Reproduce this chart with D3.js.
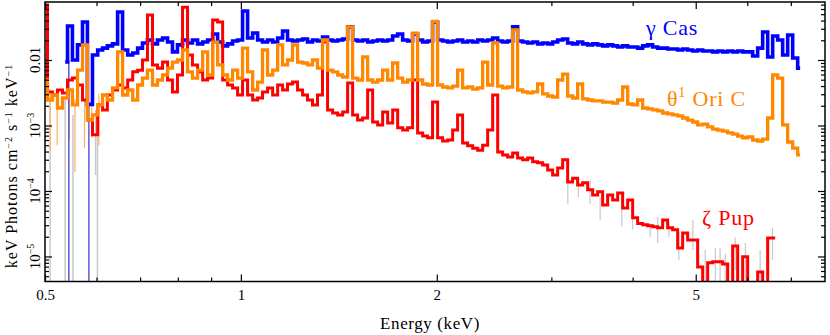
<!DOCTYPE html>
<html>
<head>
<meta charset="utf-8">
<script src="https://cdn.jsdelivr.net/npm/d3@7/dist/d3.min.js"></script>
<style>
  body{margin:0;background:#fff;}
  #canvas{width:830px;height:335px;}
  text{font-family:"Liberation Serif","Times New Roman",serif;}
  .axis path{display:none;}
  .axis line{stroke:#000;stroke-width:1.2;}
  .axis text{font-size:15px;fill:#000;}
</style>
</head>
<body>
<div id="canvas" class="canvas"></div>
<script>
// energy grid (keV), shared by the three spectra
var energy = [0.500,0.509,0.518,0.527,0.537,0.546,0.556,0.566,0.576,0.586,
0.597,0.608,0.618,0.629,0.641,0.652,0.664,0.676,0.688,0.700,
0.712,0.725,0.738,0.751,0.765,0.778,0.792,0.806,0.821,0.835,
0.850,0.866,0.881,0.897,0.913,0.929,0.946,0.962,0.980,0.997,
1.015,1.033,1.052,1.070,1.089,1.109,1.129,1.149,1.169,1.190,
1.211,1.233,1.255,1.277,1.300,1.323,1.347,1.371,1.396,1.421,
1.446,1.472,1.498,1.525,1.552,1.580,1.608,1.637,1.666,1.696,
1.726,1.757,1.788,1.820,1.852,1.886,1.919,1.953,1.988,2.024,
2.060,2.097,2.134,2.172,2.211,2.251,2.291,2.332,2.373,2.416,
2.459,2.503,2.547,2.593,2.639,2.686,2.734,2.783,2.833,2.883,
2.935,2.987,3.040,3.095,3.150,3.206,3.263,3.322,3.381,3.441,
3.503,3.565,3.629,3.694,3.760,3.827,3.895,3.965,4.035,4.107,
4.181,4.255,4.331,4.409,4.487,4.567,4.649,4.732,4.816,4.902,
4.990,5.079,5.170,5.262,5.356,5.451,5.549,5.648,5.749,5.851,
5.956,6.062,6.170,6.280,6.393,6.507,6.623,6.741,6.861,6.984,
7.109,7.235];

// gamma Cas  (keV Photons cm-2 s-1 keV-1)
var gamCas = [null,null,null,null,0.0093,0.033,0.0100,0.0170,0.038,0.0021,
0.0119,0.0142,0.0152,0.0164,0.0176,0.054,0.0142,0.0119,0.0128,0.0152,
0.0182,0.0202,0.0176,0.0202,0.0217,0.0188,0.0133,0.0170,0.0202,0.0182,
0.0202,0.0176,0.0188,0.0202,0.0249,0.0188,0.0164,0.0176,0.0195,0.0202,
0.056,0.0217,0.0258,0.0202,0.0188,0.0202,0.0188,0.0217,0.0277,0.0202,
0.0195,0.0202,0.0209,0.0188,0.0202,0.0195,0.0224,0.0202,0.0195,0.0202,
0.0209,0.032,0.0202,0.0195,0.0202,0.0188,0.0195,0.0202,0.0195,0.0202,
0.0232,0.0249,0.0202,0.0195,0.0249,0.0202,0.0188,0.0195,0.038,0.0202,
0.0195,0.0188,0.0195,0.0202,0.0188,0.0195,0.0188,0.0202,0.0195,0.0202,
0.0217,0.0195,0.0188,0.0195,0.032,0.0195,0.0188,0.0182,0.0188,0.0176,
0.0182,0.0176,0.0188,0.0202,0.0209,0.0182,0.0176,0.0188,0.0176,0.0170,
0.0176,0.0170,0.0164,0.0170,0.0164,0.0158,0.0164,0.0158,0.0158,0.0152,
0.0164,0.0170,0.0158,0.0152,0.0152,0.0147,0.0147,0.0142,0.0147,0.0142,
0.0137,0.0142,0.0137,0.0137,0.0133,0.0137,0.0133,0.0137,0.0133,0.0137,
0.0133,0.0133,0.0115,0.0152,0.0268,0.0111,0.0232,0.0202,0.0119,0.0241,
0.0107,0.0075];

// theta1 Ori C
var thetaOri = [0.00495,0.00245,0.00292,0.00185,0.00263,0.00348,0.00206,0.0070,0.0170,0.00121,
0.00145,0.00206,0.00292,0.00245,0.00374,0.0133,0.00292,0.00348,0.00245,0.00415,
0.0053,0.0070,0.00415,0.00495,0.0059,0.0075,0.0093,0.0100,0.0142,0.0066,
0.0053,0.0070,0.0133,0.0059,0.0188,0.0084,0.0059,0.00495,0.0070,0.0053,
0.0152,0.0066,0.00348,0.0046,0.0142,0.0059,0.0070,0.0170,0.0084,0.0100,
0.0170,0.0093,0.0090,0.0084,0.0100,0.0075,0.0202,0.0070,0.0066,0.0059,
0.0055,0.032,0.0053,0.00495,0.0111,0.00495,0.0046,0.00495,0.0070,0.00495,
0.0090,0.0053,0.0046,0.00495,0.0258,0.00495,0.0043,0.00415,0.039,0.00415,
0.00387,0.00374,0.0040,0.0070,0.00374,0.00387,0.0036,0.00374,0.0093,0.00415,
0.0182,0.0040,0.00374,0.00387,0.0287,0.00348,0.00325,0.00314,0.00325,0.0043,
0.00303,0.00282,0.00272,0.00495,0.0061,0.00282,0.00263,0.0043,0.00254,0.00245,
0.00237,0.00237,0.00228,0.00228,0.0022,0.00245,0.00387,0.00213,0.00206,0.00245,
0.00185,0.00179,0.00173,0.00167,0.00155,0.0015,0.00145,0.0014,0.0013,0.00121,
0.00113,0.00102,0.00105,0.00095,0.00088,0.00085,0.00082,0.00077,0.00074,0.00069,
0.00065,0.00067,0.0006,0.00058,0.00062,0.0013,0.0059,0.0053,0.00102,0.00056,
0.00045,0.000355];

// zeta Pup (1e-6 = bin below the plotted range)
var zetaPup = [0.069,0.00325,0.00292,0.00348,0.00314,0.00495,0.0053,0.00415,0.00245,0.00121,
0.00072,0.00206,0.00173,0.00292,0.00348,0.00415,0.00374,0.00495,0.0066,0.0070,
0.0100,0.0486,0.0084,0.0075,0.0093,0.00495,0.00325,0.0059,0.064,0.0119,
0.0084,0.0066,0.00495,0.0053,0.0408,0.038,0.00495,0.00415,0.00374,0.00292,
0.00495,0.00292,0.00245,0.00263,0.00325,0.00374,0.00292,0.00415,0.00348,0.0043,
0.0046,0.00348,0.00292,0.00245,0.00206,0.00292,0.0188,0.00173,0.00155,0.00145,
0.00161,0.00445,0.00145,0.00121,0.0013,0.00348,0.00113,0.00102,0.00161,0.00109,
0.00173,0.00092,0.00085,0.00092,0.00495,0.00077,0.00069,0.00065,0.00228,0.00065,
0.00058,0.0006,0.00085,0.00145,0.00054,0.00049,0.00045,0.00042,0.0005,0.00085,
0.00292,0.000395,0.000355,0.00033,0.00038,0.00032,0.0003,0.00032,0.00028,0.00027,
0.00025,0.00021,0.000176,0.000225,0.0003,0.000137,0.000157,0.000123,0.000133,0.000104,
8.7e-5,9.7e-5,6.1e-5,8.7e-5,7.3e-5,9.3e-5,5.5e-5,7.3e-5,3.9e-5,3.2e-5,
3.05e-5,2.95e-5,2.85e-5,2.75e-5,3.6e-5,2.75e-5,2.55e-5,1.35e-5,2.28e-5,1.79e-5,
1.79e-5,6.9e-6,1e-6,8.0e-6,8.3e-6,8.3e-6,7.7e-6,1e-6,1.45e-5,1e-6,
9.9e-6,1e-6,1e-6,5.8e-6,1e-6,1.92e-5,1.92e-5,null,null,null,
null,null];

// error bars that show outside the lines
var pupBarE  = [3.18,3.30,3.44,3.565,3.85,4.0,4.255,4.37,4.55,4.71,4.95,5.17,5.36,5.45,5.55,5.75,5.96,6.28,6.56];
var pupBarLo = [6.4e-5,8.1e-5,6.4e-5,3.6e-5,2.85e-5,2.55e-5,2.0e-5,1.6e-5,2.0e-5,8.9e-6,1.26e-5,1e-6,1e-6,1e-6,1e-6,6.2e-6,1e-6,1e-6,8.9e-6];
var pupBarHi = [1.89e-4,1.47e-4,1.47e-4,8.1e-5,9.3e-5,4.0e-5,3.2e-5,4.0e-5,3.2e-5,2.28e-5,3.6e-5,1.26e-5,1.35e-5,1.35e-5,1.1e-5,1.95e-5,1.6e-5,1.26e-5,2.75e-5];

var lowBarE  = [0.509,0.537,0.552,0.598,0.602];
var lowBarLo = [1e-6,1e-6,1e-6,1.76e-4,1e-6];
var lowBarHi = [2.9e-3,2.45e-3,1.45e-3,1.73e-3,1.21e-3];

var oriBarE  = [0.509,0.522,0.545,0.556,0.575,0.590,0.605];
var oriBarLo = [4.2e-4,5.0e-4,6.0e-4,1.95e-4,4.5e-4,6.5e-4,5.0e-4];
var oriBarHi = [3.5e-3,3.0e-3,3.5e-3,2.5e-3,2.5e-3,2.5e-3,3.0e-3];

var casBarE  = [0.544,0.584];
var casBarLo = [1e-6,1e-6];
var casBarHi = [0.0100,0.0021];

// ticks
var xMajor = [0.5,1,2,5];
var xMinor = [0.6,0.7,0.8,0.9,3,4,6,7];
var yMajor = [0.01,1e-3,1e-4,1e-5];
var yLabels = [['0.01',''],['10','\u22123'],['10','\u22124'],['10','\u22125']];

var m = {t:2,r:5,b:53.5,l:45};
var outerWidth = 830, outerHeight = 335;
var w = outerWidth - m.l - m.r,
    h = outerHeight - m.t - m.b;

var svg = d3.select('.canvas')
    .append('svg')
    .attr('width',outerWidth)
    .attr('height',outerHeight);

var plot = svg.append('g')
    .attr('transform','translate(' + m.l + ',' + m.t + ')');

var scaleX = d3.scaleLog().domain([0.5,7.9]).range([0,w]);
var scaleY = d3.scaleLog().domain([4.15e-6,0.0768]).range([h,0]);

plot.append('clipPath').attr('id','clip')
    .append('rect').attr('width',w).attr('height',h);
var layer = plot.append('g').attr('clip-path','url(#clip)');

function bars(E, lo, hi, color, width){
    layer.append('g').selectAll('line')
        .data(E)
        .enter().append('line')
        .attr('x1',function(d){return scaleX(d);})
        .attr('x2',function(d){return scaleX(d);})
        .attr('y1',function(d,i){return scaleY(hi[i]);})
        .attr('y2',function(d,i){return scaleY(lo[i]);})
        .style('stroke',color)
        .style('stroke-width',width);
}

bars(lowBarE, lowBarLo, lowBarHi, '#c8c8c8', 1.5);
bars(pupBarE, pupBarLo, pupBarHi, '#c8c8c8', 1.2);
bars(oriBarE, oriBarLo, oriBarHi, '#ffb060', 1.2);
bars(casBarE, casBarLo, casBarHi, '#4040d0', 1.3);

var line = d3.line()
    .defined(function(d){return d[1] != null;})
    .curve(d3.curveStep)
    .x(function(d){return scaleX(d[0]);})
    .y(function(d){return scaleY(d[1]);});

function spectrum(vals, color, width){
    var pts = energy.map(function(e,i){return [e, vals[i]];});
    layer.append('path').datum(pts)
        .attr('d',line)
        .style('fill','none')
        .style('stroke',color)
        .style('stroke-linejoin','miter')
        .style('stroke-width',width);
}

spectrum(gamCas, '#0000ff', 3.6);
spectrum(zetaPup, '#ff0000', 3);
spectrum(thetaOri, '#ff8800', 3.3);

// axes, ticks pointing inwards on all four sides
plot.append('g').attr('class','axis')
    .attr('transform','translate(0,' + h + ')')
    .call(d3.axisBottom(scaleX).tickValues(xMajor).tickSize(-7).tickSizeOuter(0)
        .tickPadding(8).tickFormat(function(d){return d;}));
plot.append('g').attr('class','axis')
    .attr('transform','translate(0,' + h + ')')
    .call(d3.axisBottom(scaleX).tickValues(xMinor).tickSize(-4).tickSizeOuter(0).tickFormat(''));
plot.append('g').attr('class','axis')
    .call(d3.axisTop(scaleX).tickValues(xMajor).tickSize(-7).tickSizeOuter(0).tickFormat(''));
plot.append('g').attr('class','axis')
    .call(d3.axisTop(scaleX).tickValues(xMinor).tickSize(-4).tickSizeOuter(0).tickFormat(''));

var yMinor = [];
[1e-6,1e-5,1e-4,1e-3,1e-2].forEach(function(dec){
    [2,3,4,5,6,7,8,9].forEach(function(k){
        var v = k*dec;
        if(v > scaleY.domain()[0] && v < scaleY.domain()[1]) yMinor.push(v);
    });
});

plot.append('g').attr('class','axis')
    .call(d3.axisLeft(scaleY).tickValues(yMajor).tickSize(-7).tickSizeOuter(0).tickFormat(''));
plot.append('g').attr('class','axis')
    .call(d3.axisLeft(scaleY).tickValues(yMinor).tickSize(-4).tickSizeOuter(0).tickFormat(''));
plot.append('g').attr('class','axis')
    .attr('transform','translate(' + w + ',0)')
    .call(d3.axisRight(scaleY).tickValues(yMajor).tickSize(-7).tickSizeOuter(0).tickFormat(''));
plot.append('g').attr('class','axis')
    .attr('transform','translate(' + w + ',0)')
    .call(d3.axisRight(scaleY).tickValues(yMinor).tickSize(-4).tickSizeOuter(0).tickFormat(''));

plot.append('rect')
    .attr('width',w).attr('height',h)
    .style('fill','none').style('stroke','#000').style('stroke-width',1.5);

// rotated y tick labels
yMajor.forEach(function(v,i){
    var t = svg.append('text')
        .attr('transform','translate(40,' + (m.t + scaleY(v)) + ') rotate(-90)')
        .attr('text-anchor','middle')
        .style('font-size','15px');
    t.append('tspan').text(yLabels[i][0]);
    if(yLabels[i][1]){
        t.append('tspan').attr('dy',-6).style('font-size','10px').text(yLabels[i][1]);
    }
});

// axis titles
svg.append('text')
    .attr('x',430).attr('y',329)
    .attr('text-anchor','middle')
    .style('font-size','17px')
    .style('letter-spacing','0.6px')
    .text('Energy (keV)');

var yt = svg.append('text')
    .attr('transform','translate(17,166) rotate(-90)')
    .attr('text-anchor','middle')
    .style('font-size','16px')
    .style('letter-spacing','1px');
yt.append('tspan').text('keV Photons cm');
yt.append('tspan').attr('dy',-5).style('font-size','10px').text('\u22122');
yt.append('tspan').attr('dy',5).text(' s');
yt.append('tspan').attr('dy',-5).style('font-size','10px').text('\u22121');
yt.append('tspan').attr('dy',5).text(' keV');
yt.append('tspan').attr('dy',-5).style('font-size','10px').text('\u22121');

// star names
svg.append('text').attr('x',646).attr('y',35)
    .style('font-size','22px').style('letter-spacing','0.8px').style('fill','#0000ff')
    .text('\u03b3 Cas');
var oriLab = svg.append('text').attr('x',667).attr('y',106)
    .style('font-size','22px').style('letter-spacing','0.8px').style('fill','#ff8800');
oriLab.append('tspan').text('\u03b8');
oriLab.append('tspan').attr('dy',-9).style('font-size','14px').text('1');
oriLab.append('tspan').attr('dy',9).text(' Ori C');
svg.append('text').attr('x',702).attr('y',225)
    .style('font-size','22px').style('letter-spacing','0.8px').style('fill','#ff0000')
    .text('\u03b6 Pup');
</script>
</body>
</html>
